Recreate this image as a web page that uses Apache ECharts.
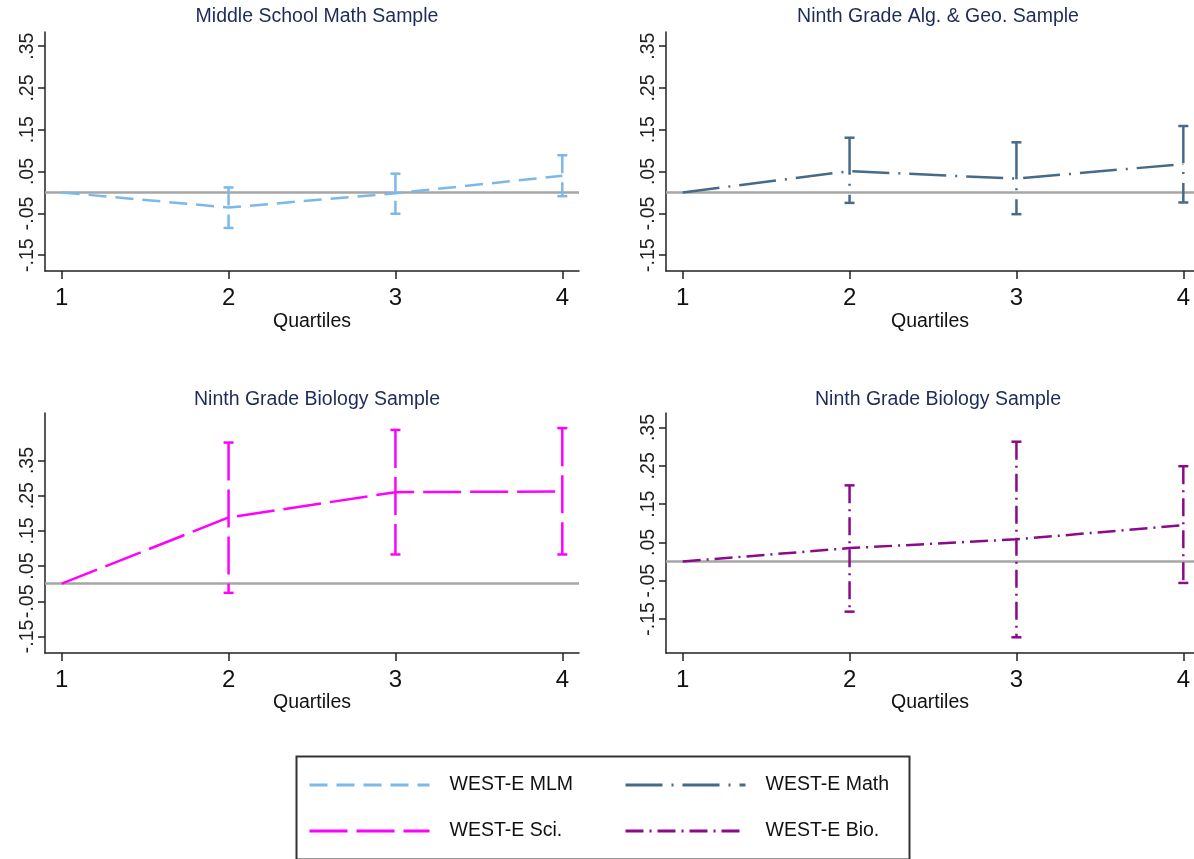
<!DOCTYPE html>
<html>
<head>
<meta charset="utf-8">
<title>WEST-E quartiles</title>
<script src="https://cdn.jsdelivr.net/npm/echarts@6/dist/echarts.min.js"></script>
<style>
  html, body { margin: 0; padding: 0; background: #fff; }
  #chart { width: 1194px; height: 859px; }
</style>
</head>
<body>
<div id="chart"></div>
<script>
// data
const quartiles = [1, 2, 3, 4]
const yTicks = [-0.15, -0.05, 0.05, 0.15, 0.25, 0.35]

const mlmEst = [0, -0.036, -0.002, 0.040]
const mlmLow = [null, -0.085, -0.051, -0.009]
const mlmHigh = [null, 0.012, 0.045, 0.089]

const mathEst = [0, 0.051, 0.033, 0.068]
const mathLow = [null, -0.025, -0.052, -0.024]
const mathHigh = [null, 0.131, 0.120, 0.159]

const sciEst = [0, 0.188, 0.260, 0.262]
const sciLow = [null, -0.026, 0.083, 0.083]
const sciHigh = [null, 0.401, 0.437, 0.442]

const bioEst = [0, 0.035, 0.058, 0.095]
const bioLow = [null, -0.131, -0.198, -0.056]
const bioHigh = [null, 0.199, 0.313, 0.249]

const FONT = '"Liberation Sans", Arial, sans-serif'

// right-hand panels run off the page edge, so their x range is cut short
const panels = [
  { title: 'Middle School Math Sample', name: 'WEST-E MLM', color: '#7cb8e8', dash: [18, 9],
    est: mlmEst, low: mlmLow, high: mlmHigh, left: 45, top: 32, width: 534, height: 239, xmax: 4.1,
    ymin: -0.188, ymax: 0.384, titleTop: 2, legLeft: 308, legTop: 775 },
  { title: 'Ninth Grade Alg. & Geo. Sample', name: 'WEST-E Math', color: '#466a88', dash: [37, 9, 2, 9],
    est: mathEst, low: mathLow, high: mathHigh, left: 666, top: 32, width: 528, height: 239, xmax: 4.064,
    ymin: -0.188, ymax: 0.384, titleTop: 2, legLeft: 624, legTop: 775 },
  { title: 'Ninth Grade Biology Sample', name: 'WEST-E Sci.', color: '#ff00ff', dash: [38, 9],
    est: sciEst, low: sciLow, high: sciHigh, left: 45, top: 413, width: 534, height: 240, xmax: 4.1,
    ymin: -0.197, ymax: 0.485, titleTop: 385, legLeft: 308, legTop: 821 },
  { title: 'Ninth Grade Biology Sample', name: 'WEST-E Bio.', color: '#8b0a8b', dash: [18, 6, 2, 6],
    est: bioEst, low: bioLow, high: bioHigh, left: 666, top: 413, width: 528, height: 240, xmax: 4.064,
    ymin: -0.239, ymax: 0.388, titleTop: 385, legLeft: 624, legTop: 821 },
]

function fmtTick(v) {
  return v.toFixed(2).replace('0.', '.')
}

function errRender(color, dash) {
  return function (params, api) {
    const x = api.value(0)
    const lo = api.coord([x, api.value(1)])
    const hi = api.coord([x, api.value(2)])
    const half = 5
    const base = { stroke: color, lineWidth: 2.5, fill: null }
    return {
      type: 'group',
      children: [
        { type: 'line', shape: { x1: hi[0], y1: hi[1], x2: lo[0], y2: lo[1] }, style: Object.assign({ lineDash: dash }, base) },
        { type: 'line', shape: { x1: hi[0] - half, y1: hi[1], x2: hi[0] + half, y2: hi[1] }, style: base },
        { type: 'line', shape: { x1: lo[0] - half, y1: lo[1], x2: lo[0] + half, y2: lo[1] }, style: base },
      ],
    }
  }
}

const grid = [], xAxis = [], yAxis = [], series = [], title = [], legend = []

panels.forEach((p, i) => {
  grid.push({ left: p.left, top: p.top, width: p.width, height: p.height, containLabel: false })
  title.push({
    text: p.title,
    left: p.left + 267,
    top: p.titleTop,
    textAlign: 'center',
    textStyle: { fontFamily: FONT, fontSize: 19.5, fontWeight: 'normal', color: '#1c2b59' },
  })
  legend.push({
    data: [p.name],
    left: p.legLeft,
    top: p.legTop,
    padding: 0,
    itemWidth: 120,
    itemHeight: 20,
    itemStyle: { opacity: 0 },
    lineStyle: { width: 3 },
    textStyle: { fontFamily: FONT, fontSize: 19.5, color: '#111', padding: [0, 0, 0, 15] },
  })
  xAxis.push({
    type: 'value',
    gridIndex: i,
    min: 0.9,
    max: p.xmax,
    name: 'Quartiles',
    nameLocation: 'middle',
    nameGap: i < 2 ? 41 : 39,
    nameTextStyle: { fontFamily: FONT, fontSize: 19.5, color: '#111' },
    axisLine: { show: true, onZero: false, lineStyle: { color: '#222', width: 1.5 } },
    axisTick: { show: true, length: 8, customValues: quartiles, lineStyle: { color: '#222', width: 1.5 } },
    axisLabel: { customValues: quartiles, fontFamily: FONT, fontSize: 24, color: '#111', margin: 15 },
    splitLine: { show: false },
  })
  yAxis.push({
    type: 'value',
    gridIndex: i,
    min: p.ymin,
    max: p.ymax,
    axisLine: { show: true, onZero: false, lineStyle: { color: '#222', width: 1.5 } },
    axisTick: { show: true, length: 7, customValues: yTicks, lineStyle: { color: '#222', width: 1.5 } },
    axisLabel: {
      customValues: yTicks,
      rotate: 90,
      formatter: fmtTick,
      fontFamily: FONT,
      fontSize: 19.5,
      color: '#222',
      margin: 7,
      hideOverlap: false,
    },
    splitLine: { show: false },
  })
  series.push({
    name: p.name,
    type: 'line',
    xAxisIndex: i,
    yAxisIndex: i,
    z: 10,
    symbol: 'none',
    data: quartiles.map((q, k) => [q, p.est[k]]),
    lineStyle: { color: p.color, width: 2.5, type: p.dash },
    itemStyle: { color: p.color },
    markLine: {
      silent: true,
      symbol: 'none',
      z: 1,
      label: { show: false },
      lineStyle: { color: '#a6a6a6', width: 2.5, type: 'solid' },
      data: [{ yAxis: 0 }],
    },
  })
  series.push({
    name: 'ci-' + i,
    type: 'custom',
    xAxisIndex: i,
    yAxisIndex: i,
    z: 10,
    renderItem: errRender(p.color, p.dash),
    encode: { x: 0, y: [1, 2] },
    data: quartiles
      .map((q, k) => [q, p.low[k], p.high[k]])
      .filter(d => d[1] !== null),
  })
})

const chart = echarts.init(document.getElementById('chart'))
chart.setOption({
  animation: false,
  title,
  grid,
  xAxis,
  yAxis,
  series,
  legend,
  graphic: [
    {
      type: 'rect',
      left: 294,
      top: 754,
      shape: { width: 613, height: 103 },
      style: { fill: null, stroke: '#333', lineWidth: 2 },
      silent: true,
    },
  ],
})
</script>
</body>
</html>
